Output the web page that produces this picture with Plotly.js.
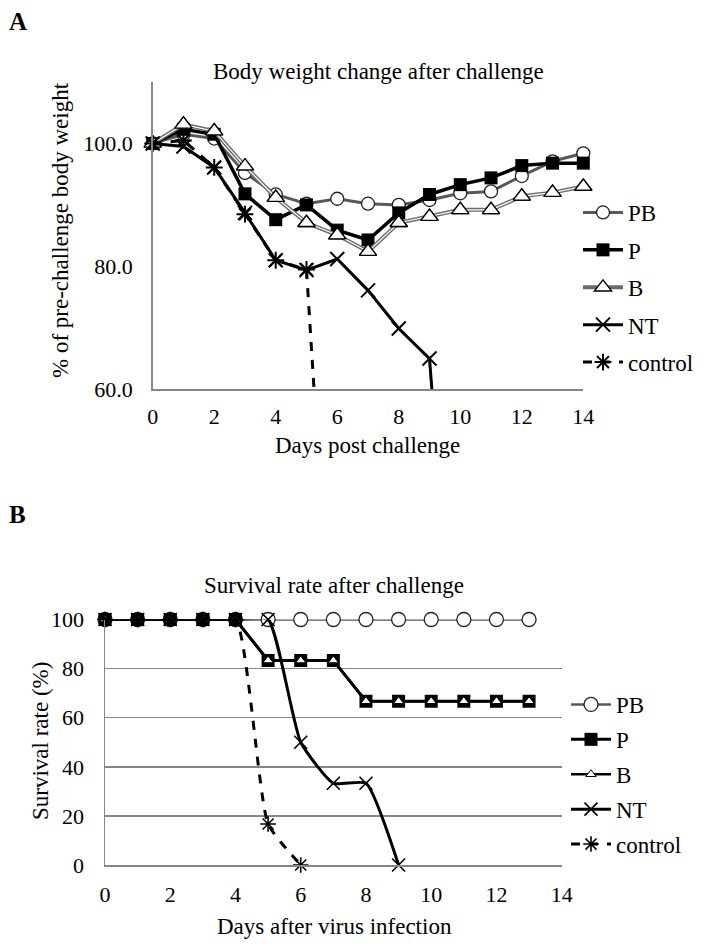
<!DOCTYPE html>
<html>
<head>
<meta charset="utf-8">
<script src="https://cdn.plot.ly/plotly-3.0.1.min.js"></script>
<style>html,body{margin:0;padding:0;background:#fff;}#chart{width:704px;height:947px;}</style>
</head>
<body>
<div id="chart"></div>
<script>
// ---------- Data ----------
const seriesNames = ["PB", "P", "B", "NT", "control"];

// Panel A: body weight (% of pre-challenge), days post challenge
const weightDays = [0, 1, 2, 3, 4, 5, 6, 7, 8, 9, 10, 11, 12, 13, 14];
const weightPB = [100, 101.5, 100.8, 95.2, 91.7, 90.2, 91.0, 90.2, 90.0, 90.8, 91.9, 92.2, 94.7, 97.1, 98.4];
const weightP = [100, 102.3, 101.5, 91.8, 87.6, 90.0, 85.9, 84.3, 88.7, 91.7, 93.3, 94.4, 96.4, 96.8, 96.8];
const weightB = [100, 103.1, 102.0, 96.3, 91.2, 87.1, 85.1, 82.4, 87.1, 88.1, 89.2, 89.2, 91.4, 92.0, 93.0];
const weightNTDays = [0, 1, 2, 3, 4, 5, 6, 7, 8, 9, 10];
const weightNT = [100, 99.5, 96.1, 88.7, 81.0, 79.4, 81.2, 76.1, 69.9, 65.0, 0];
const weightCtrlDays = [0, 1, 2, 3, 4, 5, 6];
const weightCtrl = [100, 100.5, 96.1, 88.5, 81.0, 79.5, 0];

// Panel B: survival rate (%), days after virus infection
const survDays = [0, 1, 2, 3, 4, 5, 6, 7, 8, 9, 10, 11, 12, 13];
const survPB = [100, 100, 100, 100, 100, 100, 100, 100, 100, 100, 100, 100, 100, 100];
const survP = [100, 100, 100, 100, 100, 83.3, 83.3, 83.3, 66.7, 66.7, 66.7, 66.7, 66.7, 66.7];
const survB = [100, 100, 100, 100, 100, 83.3, 83.3, 83.3, 66.7, 66.7, 66.7, 66.7, 66.7, 66.7];
const survNTDays = [0, 1, 2, 3, 4, 5, 6, 7, 8, 9];
const survNT = [100, 100, 100, 100, 100, 100, 50, 33.3, 33.3, 0];
const survCtrlDays = [0, 1, 2, 3, 4, 5, 6];
const survCtrl = [100, 100, 100, 100, 100, 16.7, 0];

const xTicksA = [0, 2, 4, 6, 8, 10, 12, 14];
const yTicksA = [60, 80, 100];
const yTicksB = [0, 20, 40, 60, 80, 100];

const texts = {
  panelA: "A", panelB: "B",
  titleA: "Body weight change after challenge",
  xTitleA: "Days post challenge",
  yTitleA: "% of pre-challenge body weight",
  titleB: "Survival rate after challenge",
  xTitleB: "Days after virus infection",
  yTitleB: "Survival rate (%)"
};

// ---------- Layout helpers ----------
const W = 704, H = 947;
const FONT = "Liberation Serif, Times New Roman, serif";
const px = p => p / W;
const py = p => 1 - p / H;
const GREY = "#868686";

const traces = [
  // Panel A
  {x: weightDays, y: weightPB, name: seriesNames[0], mode: "lines+markers", xaxis: "x", yaxis: "y", legend: "legend", legendgroup: "a1",
   line: {color: "#595959", width: 3}, marker: {symbol: "circle", size: 13, color: "#fff", line: {color: "#222", width: 1.3}}, cliponaxis: false},
  {x: weightDays, y: weightP, name: seriesNames[1], mode: "lines+markers", xaxis: "x", yaxis: "y", legend: "legend", legendgroup: "a2",
   line: {color: "#000", width: 3.5}, marker: {symbol: "square", size: 13, color: "#000"}, cliponaxis: false},
  {x: weightDays, y: weightB, name: seriesNames[2], mode: "lines+markers", xaxis: "x", yaxis: "y", legend: "legend", legendgroup: "a3",
   line: {color: "#6b6b6b", width: 4}, marker: {symbol: "triangle-up", size: 15, color: "#fff", line: {color: "#000", width: 1.3}}, cliponaxis: false},
  {x: weightDays, y: weightB, mode: "lines", xaxis: "x", yaxis: "y", showlegend: false, hoverinfo: "skip",
   line: {color: "#fff", width: 1.2}, cliponaxis: false},
  {x: weightDays, y: weightB, mode: "markers", xaxis: "x", yaxis: "y", showlegend: false, hoverinfo: "skip",
   marker: {symbol: "triangle-up", size: 15, color: "#fff", line: {color: "#000", width: 1.3}}, cliponaxis: false},
  {x: weightNTDays, y: weightNT, name: seriesNames[3], mode: "lines+markers", xaxis: "x", yaxis: "y", legend: "legend", legendgroup: "a4",
   line: {color: "#000", width: 3}, marker: {symbol: "x-thin-open", size: 14, color: "#000", line: {color: "#000", width: 2}}, cliponaxis: false},
  {x: weightCtrlDays, y: weightCtrl, name: seriesNames[4], mode: "lines+markers", xaxis: "x", yaxis: "y", legend: "legend", legendgroup: "a5",
   line: {color: "#000", width: 3, dash: "dash"}, marker: {symbol: "asterisk-open", size: 14, color: "#000", line: {color: "#000", width: 2}}, cliponaxis: false},

  // Panel B
  {x: survDays, y: survPB, name: seriesNames[0], mode: "lines+markers", xaxis: "x2", yaxis: "y2", legend: "legend2", legendgroup: "b1",
   line: {color: "#595959", width: 2.5}, marker: {symbol: "circle", size: 14, color: "#fff", line: {color: "#222", width: 1.3}}, cliponaxis: false},
  {x: survDays, y: survP, name: seriesNames[1], mode: "lines+markers", xaxis: "x2", yaxis: "y2", legend: "legend2", legendgroup: "b2",
   line: {color: "#000", width: 3}, marker: {symbol: "square", size: 13, color: "#000"}, cliponaxis: false},
  {x: survDays, y: survB, name: seriesNames[2], mode: "lines+markers", xaxis: "x2", yaxis: "y2", legend: "legend2", legendgroup: "b3",
   line: {color: "#000", width: 2.5}, marker: {symbol: "triangle-up", size: 9, color: "#fff", line: {color: "#000", width: 1}}, cliponaxis: false},
  {x: survNTDays, y: survNT, name: seriesNames[3], mode: "lines+markers", xaxis: "x2", yaxis: "y2", legend: "legend2", legendgroup: "b4",
   line: {color: "#000", width: 3, shape: "spline", smoothing: 0.5}, marker: {symbol: "x-thin-open", size: 13, color: "#000", line: {color: "#000", width: 1.6}}, cliponaxis: false},
  {x: survCtrlDays, y: survCtrl, name: seriesNames[4], mode: "lines+markers", xaxis: "x2", yaxis: "y2", legend: "legend2", legendgroup: "b5",
   line: {color: "#000", width: 3, dash: "dash", shape: "spline", smoothing: 0.5}, marker: {symbol: "asterisk-open", size: 13, color: "#000", line: {color: "#000", width: 1.6}}, cliponaxis: false}
];

const tickFont = {family: FONT, size: 22, color: "#000"};
const titleFont = {family: FONT, size: 23, color: "#000"};

const layout = {
  width: W, height: H,
  margin: {l: 0, r: 0, t: 0, b: 0},
  paper_bgcolor: "#fff", plot_bgcolor: "#fff",
  font: {family: FONT, color: "#000"},
  showlegend: true,
  xaxis: {domain: [px(152.7), px(583.3)], range: [0, 14], tickvals: xTicksA, anchor: "y",
          showline: true, linecolor: GREY, linewidth: 1.5, showgrid: false, zeroline: false, ticks: "",
          tickfont: tickFont, ticklabelstandoff: 7},
  yaxis: {domain: [py(389.3), py(82)], range: [60, 110], tickvals: yTicksA, tickformat: ".1f", anchor: "x",
          showline: true, linecolor: GREY, linewidth: 1.5, showgrid: false, zeroline: false, ticks: "",
          tickfont: tickFont, ticklabelstandoff: 14},
  xaxis2: {domain: [px(105), px(561.7)], range: [0, 14], tickvals: xTicksA, anchor: "y2",
          showline: true, linecolor: GREY, linewidth: 1.5, showgrid: false, zeroline: false, ticks: "",
          tickfont: tickFont, ticklabelstandoff: 9},
  yaxis2: {domain: [py(865), py(619.5)], range: [0, 100], tickvals: yTicksB, anchor: "x2",
          showline: true, linecolor: GREY, linewidth: 1.5, showgrid: true, gridcolor: GREY, gridwidth: 1.5, zeroline: false, ticks: "",
          tickfont: tickFont, ticklabelstandoff: 15},
  legend: {x: px(578), y: py(191), xanchor: "left", yanchor: "top", font: {family: FONT, size: 23, color: "#000"},
           bgcolor: "rgba(0,0,0,0)", tracegroupgap: 4.5, itemwidth: 40},
  legend2: {x: px(566), y: py(683), xanchor: "left", yanchor: "top", font: {family: FONT, size: 23, color: "#000"},
           bgcolor: "rgba(0,0,0,0)", tracegroupgap: 2, itemwidth: 40},
  annotations: [
    {text: "<b>" + texts.panelA + "</b>", x: px(7), y: py(21), xref: "paper", yref: "paper", xanchor: "left", yanchor: "middle", showarrow: false, font: {family: FONT, size: 25}},
    {text: "<b>" + texts.panelB + "</b>", x: px(7), y: py(514), xref: "paper", yref: "paper", xanchor: "left", yanchor: "middle", showarrow: false, font: {family: FONT, size: 25}},
    {text: texts.titleA, x: px(378), y: py(71), xref: "paper", yref: "paper", xanchor: "center", yanchor: "middle", showarrow: false, font: titleFont},
    {text: texts.xTitleA, x: px(367), y: py(445), xref: "paper", yref: "paper", xanchor: "center", yanchor: "middle", showarrow: false, font: titleFont},
    {text: texts.yTitleA, x: px(61), y: py(230), xref: "paper", yref: "paper", xanchor: "center", yanchor: "middle", showarrow: false, textangle: -90, font: titleFont},
    {text: texts.titleB, x: px(334), y: py(585), xref: "paper", yref: "paper", xanchor: "center", yanchor: "middle", showarrow: false, font: titleFont},
    {text: texts.xTitleB, x: px(334), y: py(926), xref: "paper", yref: "paper", xanchor: "center", yanchor: "middle", showarrow: false, font: titleFont},
    {text: texts.yTitleB, x: px(40), y: py(741), xref: "paper", yref: "paper", xanchor: "center", yanchor: "middle", showarrow: false, textangle: -90, font: titleFont}
  ]
};

Plotly.newPlot("chart", traces, layout, {staticPlot: true, displayModeBar: false});
</script>
</body>
</html>
